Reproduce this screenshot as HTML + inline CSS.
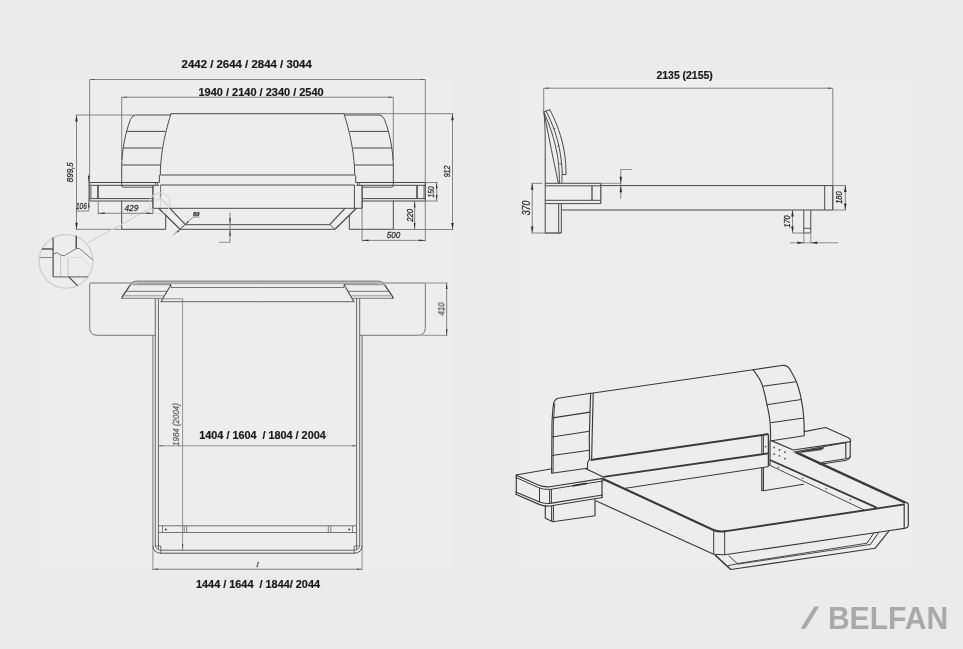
<!DOCTYPE html>
<html><head><meta charset="utf-8"><title>Bed drawing</title>
<style>
html,body{margin:0;padding:0;background:#ebebeb;}
body{width:963px;height:649px;overflow:hidden;font-family:"Liberation Sans",sans-serif;}
svg{display:block;}
</style></head><body>
<svg width="963" height="649" viewBox="0 0 963 649">
<rect x="0" y="0" width="963" height="649" fill="#ebebeb"/>
<rect x="40" y="77" width="414" height="492" fill="#ededed"/>
<rect x="516" y="77" width="396" height="492" fill="#ededed"/>
<defs><filter id="ga" x="0" y="0" width="963" height="649" filterUnits="userSpaceOnUse"><feOffset dx="0" dy="0"/></filter></defs>
<line x1="89.6" y1="79.5" x2="425.3" y2="79.5" stroke="#787878" stroke-width="0.9" />
<line x1="89.6" y1="79.5" x2="89.6" y2="183" stroke="#787878" stroke-width="0.9" />
<line x1="425.3" y1="79.5" x2="425.3" y2="241.5" stroke="#787878" stroke-width="0.9" />
<path d="M89.9,79.5 L94.4,78.7 L94.4,80.3 Z" fill="#555"/>
<path d="M425,79.5 L420.5,80.3 L420.5,78.7 Z" fill="#555"/>
<line x1="121.7" y1="97.2" x2="393.3" y2="97.2" stroke="#787878" stroke-width="0.9" />
<line x1="121.7" y1="97.2" x2="121.7" y2="160" stroke="#787878" stroke-width="0.9" />
<line x1="393.3" y1="97.2" x2="393.3" y2="160" stroke="#787878" stroke-width="0.9" />
<path d="M122,97.2 L126.5,96.4 L126.5,98 Z" fill="#555"/>
<path d="M393,97.2 L388.5,98 L388.5,96.4 Z" fill="#555"/>
<line x1="76.5" y1="115" x2="76.5" y2="229.3" stroke="#787878" stroke-width="0.9" />
<line x1="75.8" y1="115" x2="134" y2="115" stroke="#787878" stroke-width="0.9" />
<line x1="75.8" y1="229.3" x2="121.7" y2="229.3" stroke="#787878" stroke-width="0.9" />
<path d="M76.5,115 L77.8,121.5 L75.2,121.5 Z" fill="#333"/>
<path d="M76.5,229.3 L75.2,222.8 L77.8,222.8 Z" fill="#333"/>
<line x1="452.5" y1="113.7" x2="452.5" y2="229.5" stroke="#787878" stroke-width="0.9" />
<line x1="344" y1="113.7" x2="453.5" y2="113.7" stroke="#787878" stroke-width="0.9" />
<line x1="393.3" y1="229.5" x2="453.5" y2="229.5" stroke="#787878" stroke-width="0.9" />
<path d="M452.5,113.7 L453.8,120.2 L451.2,120.2 Z" fill="#333"/>
<path d="M452.5,229.5 L451.2,223 L453.8,223 Z" fill="#333"/>
<line x1="171" y1="113.7" x2="344" y2="113.7" stroke="#4a4a4a" stroke-width="1.0" />
<path d="M171,113.7 C167.5,125 160.6,148 160.3,174.8 L159.3,175.4 L159.3,182.5" stroke="#4a4a4a" stroke-width="1.0" fill="none" stroke-linejoin="round" stroke-linecap="round"/>
<path d="M170.6,115 L135.8,115 Q132.2,115.3 130.6,119.3 C129,123.5 127.7,127 126.6,131.4 C124.3,140 122,152 121.7,166 L121.7,186" stroke="#4a4a4a" stroke-width="1.0" fill="none" stroke-linejoin="round" stroke-linecap="round"/>
<line x1="126.6" y1="131.4" x2="165.3" y2="131.4" stroke="#4a4a4a" stroke-width="1.0" />
<line x1="123" y1="148" x2="161.7" y2="148" stroke="#4a4a4a" stroke-width="1.0" />
<line x1="121.8" y1="165" x2="160.3" y2="165" stroke="#4a4a4a" stroke-width="1.0" />
<path d="M121.7,186 L123,187.2 L152.5,187.2" stroke="#4a4a4a" stroke-width="0.9" fill="none" stroke-linejoin="round" stroke-linecap="round"/>
<line x1="89.7" y1="182.5" x2="158.8" y2="182.5" stroke="#4a4a4a" stroke-width="1.0" />
<line x1="89.7" y1="185.3" x2="158.8" y2="185.3" stroke="#4a4a4a" stroke-width="1.0" />
<line x1="155.4" y1="182.5" x2="155.4" y2="185.3" stroke="#4a4a4a" stroke-width="0.8" />
<line x1="157.5" y1="182.5" x2="157.5" y2="185.3" stroke="#4a4a4a" stroke-width="0.8" />
<line x1="89.7" y1="198.6" x2="152.9" y2="198.6" stroke="#4a4a4a" stroke-width="1.0" />
<line x1="89.7" y1="201" x2="152.9" y2="201" stroke="#4a4a4a" stroke-width="1.0" />
<line x1="89.7" y1="182.5" x2="89.7" y2="201" stroke="#4a4a4a" stroke-width="1.0" />
<line x1="91" y1="185.3" x2="91" y2="198.6" stroke="#4a4a4a" stroke-width="0.8" />
<line x1="98" y1="185.3" x2="98" y2="198.6" stroke="#4a4a4a" stroke-width="1.6" />
<line x1="152.9" y1="185.3" x2="152.9" y2="208.3" stroke="#4a4a4a" stroke-width="1.4" />
<path d="M121.7,201 L121.7,229.3 L165.7,229.3 L165.7,215.4" stroke="#4a4a4a" stroke-width="1.0" fill="none" stroke-linejoin="round" stroke-linecap="round"/>
<line x1="160.6" y1="185" x2="160.6" y2="198.3" stroke="#6a6a6a" stroke-width="1.0" />
<line x1="160.6" y1="198.3" x2="170.8" y2="208.3" stroke="#b8b8b8" stroke-width="0.9" />
<line x1="160.6" y1="198.3" x2="160.6" y2="208.3" stroke="#d0d0d0" stroke-width="0.8" />
<line x1="158.6" y1="208.3" x2="180" y2="229.3" stroke="#4a4a4a" stroke-width="1.2" />
<line x1="170" y1="208.3" x2="185.3" y2="224.7" stroke="#4a4a4a" stroke-width="1.2" />
<path d="M344,113.7 C347.5,125 354.4,148 354.7,174.8 L355.7,175.4 L355.7,182.5" stroke="#4a4a4a" stroke-width="1.0" fill="none" stroke-linejoin="round" stroke-linecap="round"/>
<path d="M344.4,115 L379.2,115 Q382.8,115.3 384.4,119.3 C386,123.5 387.3,127 388.4,131.4 C390.7,140 393,152 393.3,166 L393.3,186" stroke="#4a4a4a" stroke-width="1.0" fill="none" stroke-linejoin="round" stroke-linecap="round"/>
<line x1="388.4" y1="131.4" x2="349.7" y2="131.4" stroke="#4a4a4a" stroke-width="1.0" />
<line x1="392" y1="148" x2="353.3" y2="148" stroke="#4a4a4a" stroke-width="1.0" />
<line x1="393.2" y1="165" x2="354.7" y2="165" stroke="#4a4a4a" stroke-width="1.0" />
<path d="M393.3,186 L392,187.2 L362.5,187.2" stroke="#4a4a4a" stroke-width="0.9" fill="none" stroke-linejoin="round" stroke-linecap="round"/>
<line x1="425.3" y1="182.5" x2="356.2" y2="182.5" stroke="#4a4a4a" stroke-width="1.0" />
<line x1="425.3" y1="185.3" x2="356.2" y2="185.3" stroke="#4a4a4a" stroke-width="1.0" />
<line x1="359.6" y1="182.5" x2="359.6" y2="185.3" stroke="#4a4a4a" stroke-width="0.8" />
<line x1="357.5" y1="182.5" x2="357.5" y2="185.3" stroke="#4a4a4a" stroke-width="0.8" />
<line x1="425.3" y1="198.6" x2="362.1" y2="198.6" stroke="#4a4a4a" stroke-width="1.0" />
<line x1="425.3" y1="201" x2="362.1" y2="201" stroke="#4a4a4a" stroke-width="1.0" />
<line x1="425.3" y1="182.5" x2="425.3" y2="201" stroke="#4a4a4a" stroke-width="1.0" />
<line x1="424" y1="185.3" x2="424" y2="198.6" stroke="#4a4a4a" stroke-width="0.8" />
<line x1="417" y1="185.3" x2="417" y2="198.6" stroke="#4a4a4a" stroke-width="1.6" />
<line x1="362.1" y1="185.3" x2="362.1" y2="208.3" stroke="#4a4a4a" stroke-width="1.4" />
<path d="M393.3,201 L393.3,229.3 L349.3,229.3 L349.3,215.4" stroke="#4a4a4a" stroke-width="1.0" fill="none" stroke-linejoin="round" stroke-linecap="round"/>
<line x1="354.4" y1="185" x2="354.4" y2="208.3" stroke="#4a4a4a" stroke-width="1.0" />
<line x1="356.4" y1="208.3" x2="335" y2="229.3" stroke="#4a4a4a" stroke-width="1.2" />
<line x1="345" y1="208.3" x2="329.7" y2="224.7" stroke="#4a4a4a" stroke-width="1.2" />
<line x1="160.3" y1="175" x2="354.7" y2="175" stroke="#4a4a4a" stroke-width="1.0" />
<line x1="160.4" y1="185" x2="354.6" y2="185" stroke="#4a4a4a" stroke-width="1.0" />
<line x1="152.9" y1="208.3" x2="362.1" y2="208.3" stroke="#4a4a4a" stroke-width="1.0" />
<line x1="185.3" y1="224.7" x2="329.7" y2="224.7" stroke="#4a4a4a" stroke-width="1.0" />
<line x1="180" y1="229.3" x2="335" y2="229.3" stroke="#4a4a4a" stroke-width="1.0" />
<line x1="180" y1="229.3" x2="185.3" y2="224.7" stroke="#4a4a4a" stroke-width="0.8" />
<line x1="335" y1="229.3" x2="329.7" y2="224.7" stroke="#4a4a4a" stroke-width="0.8" />
<circle cx="159.8" cy="203.2" r="10.5" stroke="#d6d6d6" stroke-width="1.0" fill="none"/>
<circle cx="157" cy="197" r="3.3" stroke="#d2d2d2" stroke-width="0.9" fill="none"/>
<line x1="150.5" y1="208.5" x2="88" y2="242.8" stroke="#d4d4d4" stroke-width="1.3" />
<circle cx="66" cy="261.3" r="26.9" stroke="#d2d2d2" stroke-width="1.5" fill="none"/>
<line x1="53.1" y1="237.5" x2="53.1" y2="276.9" stroke="#5a5a5a" stroke-width="1.3" />
<line x1="41.9" y1="249" x2="53.1" y2="249" stroke="#555" stroke-width="1.5" />
<line x1="39.4" y1="257.5" x2="53.1" y2="257.5" stroke="#8a8a8a" stroke-width="1.1" />
<line x1="76.25" y1="235.8" x2="76.25" y2="248.5" stroke="#555" stroke-width="1.5" />
<path d="M53.1,254.4 L56.9,252.5 L60.6,255 L64.4,255.7 L76.25,248.5 L79.4,248.5 L92.3,259.4" stroke="#7a7a7a" stroke-width="1.0" fill="none" stroke-linejoin="round" stroke-linecap="round"/>
<line x1="60.6" y1="255" x2="60.6" y2="276.9" stroke="#bbb" stroke-width="0.8" />
<line x1="68.1" y1="257.5" x2="68.1" y2="276.9" stroke="#bbb" stroke-width="0.8" />
<path d="M68.1,257.5 L82.5,257.5 L91.6,267.5" stroke="#d4d4d4" stroke-width="0.8" fill="none" stroke-linejoin="round" stroke-linecap="round"/>
<line x1="53.1" y1="276.9" x2="88" y2="276.9" stroke="#7a7a7a" stroke-width="1.1" />
<line x1="68.75" y1="276.9" x2="77.5" y2="285.6" stroke="#444" stroke-width="1.2" />
<line x1="88.8" y1="174" x2="88.8" y2="211" stroke="#787878" stroke-width="0.9" />
<path d="M88.8,182.5 L88,176 L89.6,176 Z" fill="#333"/>
<path d="M88.8,201 L89.6,207.5 L88,207.5 Z" fill="#333"/>
<line x1="75.8" y1="211" x2="88.8" y2="211" stroke="#787878" stroke-width="0.9" />
<line x1="98.2" y1="201" x2="98.2" y2="214.3" stroke="#787878" stroke-width="0.9" />
<line x1="152.9" y1="208.3" x2="152.9" y2="214.3" stroke="#787878" stroke-width="0.9" />
<line x1="98.2" y1="213.3" x2="152.9" y2="213.3" stroke="#787878" stroke-width="0.9" />
<path d="M98.2,213.3 L104.7,212.5 L104.7,214.1 Z" fill="#333"/>
<path d="M152.9,213.3 L146.4,214.1 L146.4,212.5 Z" fill="#333"/>
<line x1="173.3" y1="235" x2="193.3" y2="217" stroke="#787878" stroke-width="0.8" />
<line x1="193.3" y1="217" x2="199.5" y2="217" stroke="#787878" stroke-width="0.8" />
<path d="M185.3,224.7 L187.99,221.02 L188.98,222.01 Z" fill="#333"/>
<path d="M180.5,229 L177.81,232.68 L176.82,231.69 Z" fill="#333"/>
<line x1="230" y1="212.5" x2="230" y2="242.3" stroke="#787878" stroke-width="0.9" />
<line x1="219" y1="242.3" x2="230" y2="242.3" stroke="#787878" stroke-width="0.8" />
<path d="M230,224.7 L229.2,218.2 L230.8,218.2 Z" fill="#333"/>
<path d="M230,229.3 L230.8,235.8 L229.2,235.8 Z" fill="#333"/>
<line x1="425.3" y1="182.5" x2="437.6" y2="182.5" stroke="#787878" stroke-width="0.9" />
<line x1="425.3" y1="201" x2="437.6" y2="201" stroke="#787878" stroke-width="0.9" />
<line x1="436.7" y1="182.5" x2="436.7" y2="201" stroke="#787878" stroke-width="0.9" />
<path d="M436.7,182.5 L437.5,188.5 L435.9,188.5 Z" fill="#333"/>
<path d="M436.7,201 L435.9,195 L437.5,195 Z" fill="#333"/>
<line x1="414.7" y1="201" x2="414.7" y2="229.5" stroke="#787878" stroke-width="0.9" />
<path d="M414.7,201 L415.5,207.5 L413.9,207.5 Z" fill="#333"/>
<path d="M414.7,229.5 L413.9,223 L415.5,223 Z" fill="#333"/>
<line x1="362.1" y1="208.3" x2="362.1" y2="241.5" stroke="#787878" stroke-width="0.9" />
<line x1="362.1" y1="240.4" x2="425.3" y2="240.4" stroke="#787878" stroke-width="0.9" />
<path d="M362.1,240.4 L368.6,239.6 L368.6,241.2 Z" fill="#333"/>
<path d="M425.3,240.4 L418.8,241.2 L418.8,239.6 Z" fill="#333"/>
<line x1="543.7" y1="88.2" x2="832.8" y2="88.2" stroke="#787878" stroke-width="0.9" />
<line x1="543.7" y1="88.2" x2="543.7" y2="112" stroke="#787878" stroke-width="0.9" />
<line x1="832.8" y1="88.2" x2="832.8" y2="210" stroke="#787878" stroke-width="0.9" />
<path d="M544,88.2 L548.5,87.4 L548.5,89 Z" fill="#555"/>
<path d="M832.5,88.2 L828,89 L828,87.4 Z" fill="#555"/>
<path d="M543.75,111.9 L549.75,109.75" stroke="#4a4a4a" stroke-width="1.0" fill="none" stroke-linejoin="round" stroke-linecap="round"/>
<path d="M549.75,109.75 C556,121 562,137 564.5,153 C565.6,160 566,167 566,174.6" stroke="#4a4a4a" stroke-width="1.0" fill="none" stroke-linejoin="round" stroke-linecap="round"/>
<path d="M546,111 C552,122 557.5,137 560,152 C561.4,160 562.2,168 562.3,174.6" stroke="#4a4a4a" stroke-width="1.0" fill="none" stroke-linejoin="round" stroke-linecap="round"/>
<line x1="562.3" y1="174.6" x2="566" y2="174.6" stroke="#4a4a4a" stroke-width="1.0" />
<path d="M543.75,111.9 C549.5,124 554,138 556.8,152 C558.4,160 559.3,170 559.4,183.3" stroke="#4a4a4a" stroke-width="1.0" fill="none" stroke-linejoin="round" stroke-linecap="round"/>
<path d="M544.3,113.5 C546.5,125 550,143 553.5,160 C555,167 557,176 558.3,183.3" stroke="#4a4a4a" stroke-width="1.0" fill="none" stroke-linejoin="round" stroke-linecap="round"/>
<path d="M543.9,112.5 C544.8,120 545.2,130 545.2,140 L545.2,233" stroke="#4a4a4a" stroke-width="1.0" fill="none" stroke-linejoin="round" stroke-linecap="round"/>
<line x1="561.9" y1="174.6" x2="561.9" y2="183.3" stroke="#4a4a4a" stroke-width="0.9" />
<line x1="553.6" y1="128.8" x2="555.3" y2="128.5" stroke="#4a4a4a" stroke-width="0.8" />
<line x1="557.3" y1="146.3" x2="559.3" y2="146" stroke="#4a4a4a" stroke-width="0.8" />
<line x1="559.3" y1="163.8" x2="561.7" y2="163.6" stroke="#4a4a4a" stroke-width="0.8" />
<line x1="545.2" y1="183.3" x2="600.8" y2="183.3" stroke="#4a4a4a" stroke-width="1.0" />
<line x1="545.2" y1="185.8" x2="600.8" y2="185.8" stroke="#4a4a4a" stroke-width="1.0" />
<line x1="600.8" y1="183.3" x2="600.8" y2="203.6" stroke="#4a4a4a" stroke-width="1.2" />
<line x1="592" y1="185.8" x2="592" y2="200.3" stroke="#4a4a4a" stroke-width="1.3" />
<line x1="545.2" y1="200.3" x2="600.8" y2="200.3" stroke="#4a4a4a" stroke-width="1.0" />
<line x1="545.2" y1="203.6" x2="600.8" y2="203.6" stroke="#4a4a4a" stroke-width="1.0" />
<line x1="558.7" y1="203.6" x2="558.7" y2="233" stroke="#4a4a4a" stroke-width="1.0" />
<line x1="561.3" y1="203.6" x2="561.3" y2="233" stroke="#4a4a4a" stroke-width="1.0" />
<line x1="545.2" y1="233" x2="561.3" y2="233" stroke="#4a4a4a" stroke-width="1.3" />
<line x1="600.8" y1="185.6" x2="832.8" y2="185.6" stroke="#4a4a4a" stroke-width="1.0" />
<line x1="561.3" y1="210" x2="832.8" y2="210" stroke="#4a4a4a" stroke-width="1.0" />
<line x1="824.7" y1="185.6" x2="824.7" y2="210" stroke="#4a4a4a" stroke-width="1.0" />
<line x1="832.8" y1="185.6" x2="832.8" y2="210" stroke="#4a4a4a" stroke-width="1.0" />
<line x1="803.8" y1="210" x2="803.8" y2="233" stroke="#4a4a4a" stroke-width="1.0" />
<line x1="810.8" y1="210" x2="810.8" y2="233" stroke="#4a4a4a" stroke-width="1.0" />
<line x1="803.8" y1="228.3" x2="810.8" y2="228.3" stroke="#4a4a4a" stroke-width="0.9" />
<line x1="803.8" y1="233" x2="810.8" y2="233" stroke="#4a4a4a" stroke-width="0.9" />
<line x1="803.8" y1="233" x2="803.8" y2="243.6" stroke="#787878" stroke-width="0.8" />
<line x1="810.8" y1="233" x2="810.8" y2="243.6" stroke="#787878" stroke-width="0.8" />
<line x1="532.2" y1="183.3" x2="532.2" y2="233" stroke="#787878" stroke-width="0.9" />
<line x1="531.5" y1="183.3" x2="542.5" y2="183.3" stroke="#787878" stroke-width="0.9" />
<line x1="531.5" y1="233" x2="545.2" y2="233" stroke="#787878" stroke-width="0.9" />
<path d="M532.2,183.3 L533.5,189.8 L530.9,189.8 Z" fill="#333"/>
<path d="M532.2,233 L530.9,226.5 L533.5,226.5 Z" fill="#333"/>
<line x1="620.8" y1="169.5" x2="620.8" y2="198.7" stroke="#787878" stroke-width="0.9" />
<line x1="620.8" y1="169.5" x2="631.7" y2="169.5" stroke="#787878" stroke-width="0.8" />
<line x1="600.8" y1="183.3" x2="621.3" y2="183.3" stroke="#787878" stroke-width="0.8" />
<path d="M620.8,183.3 L619.5,176.8 L622.1,176.8 Z" fill="#333"/>
<path d="M620.8,185.8 L622.1,192.3 L619.5,192.3 Z" fill="#333"/>
<line x1="832.8" y1="185.6" x2="846" y2="185.6" stroke="#787878" stroke-width="0.9" />
<line x1="832.8" y1="210" x2="846" y2="210" stroke="#787878" stroke-width="0.9" />
<line x1="845.3" y1="185.6" x2="845.3" y2="210" stroke="#787878" stroke-width="0.9" />
<path d="M845.3,185.6 L846.6,192.1 L844,192.1 Z" fill="#333"/>
<path d="M845.3,210 L844,203.5 L846.6,203.5 Z" fill="#333"/>
<line x1="792.5" y1="210" x2="792.5" y2="233" stroke="#787878" stroke-width="0.9" />
<line x1="792.5" y1="233" x2="803.8" y2="233" stroke="#787878" stroke-width="0.9" />
<path d="M792.5,210 L793.8,216.5 L791.2,216.5 Z" fill="#333"/>
<path d="M792.5,233 L791.2,226.5 L793.8,226.5 Z" fill="#333"/>
<line x1="790" y1="242.8" x2="838.3" y2="242.8" stroke="#787878" stroke-width="0.8" />
<path d="M803.8,242.8 L797.3,244.1 L797.3,241.5 Z" fill="#333"/>
<path d="M810.8,242.8 L817.3,241.5 L817.3,244.1 Z" fill="#333"/>
<path d="M131.7,283 L90.7,283 Q89.7,283 89.7,284 L89.7,327.8 Q89.7,335.3 97.2,335.3 L155.3,335.3" stroke="#6a6a6a" stroke-width="0.9" fill="none" stroke-linejoin="round" stroke-linecap="round"/>
<path d="M122.3,298.3 L161.7,298.3" stroke="#777" stroke-width="1.0" fill="none" stroke-linejoin="round" stroke-linecap="round"/>
<path d="M130.8,284.2 L121.9,297.3 L122.3,298.3" stroke="#4a4a4a" stroke-width="1.3" fill="none" stroke-linejoin="round" stroke-linecap="round"/>
<line x1="131.7" y1="284.7" x2="170.8" y2="284.7" stroke="#7a7a7a" stroke-width="0.9" />
<line x1="125.8" y1="291.3" x2="166.7" y2="291.3" stroke="#777" stroke-width="1.0" />
<line x1="122.8" y1="295.8" x2="163.5" y2="295.8" stroke="#8a8a8a" stroke-width="0.9" />
<path d="M170.8,285 L161,301.7" stroke="#4a4a4a" stroke-width="1.1" fill="none" stroke-linejoin="round" stroke-linecap="round"/>
<path d="M169.6,283.6 L171.2,286.5" stroke="#4a4a4a" stroke-width="1.0" fill="none" stroke-linejoin="round" stroke-linecap="round"/>
<path d="M257.5,282.2 L136,282.2 Q132.8,282.4 131.2,284.2" stroke="#b4b4b4" stroke-width="2.6" fill="none" stroke-linejoin="round" stroke-linecap="round"/>
<path d="M257.5,281 L136,281 Q132,281.2 130.8,284.2" stroke="#808080" stroke-width="0.9" fill="none" stroke-linejoin="round" stroke-linecap="round"/>
<line x1="137" y1="283.6" x2="257.5" y2="283.6" stroke="#999" stroke-width="0.8" />
<line x1="170.8" y1="287.5" x2="257.5" y2="287.5" stroke="#777" stroke-width="1.0" />
<line x1="161" y1="301.7" x2="257.5" y2="301.7" stroke="#666" stroke-width="1.0" />
<line x1="155.3" y1="298.3" x2="155.3" y2="546" stroke="#666" stroke-width="1.0" />
<line x1="158.4" y1="298.3" x2="158.4" y2="550" stroke="#666" stroke-width="1.0" />
<line x1="152.9" y1="335.3" x2="152.9" y2="546" stroke="#666" stroke-width="0.9" />
<path d="M152.9,546 Q153.2,553 160.5,553.2" stroke="#555" stroke-width="1.0" fill="none" stroke-linejoin="round" stroke-linecap="round"/>
<path d="M155.3,546 L160.8,546 L160.8,553.2" stroke="#666" stroke-width="0.9" fill="none" stroke-linejoin="round" stroke-linecap="round"/>
<path d="M155.3,546 Q155.6,550 160.8,550.2" stroke="#666" stroke-width="0.8" fill="none" stroke-linejoin="round" stroke-linecap="round"/>
<line x1="162.5" y1="525.8" x2="162.5" y2="532.5" stroke="#666" stroke-width="0.8" />
<line x1="184.2" y1="525.8" x2="184.2" y2="532.5" stroke="#666" stroke-width="0.8" />
<line x1="186.7" y1="525.8" x2="186.7" y2="532.5" stroke="#666" stroke-width="0.8" />
<circle cx="165.8" cy="529.4" r="1" fill="#444"/>
<path d="M383.3,283 L424.3,283 Q425.3,283 425.3,284 L425.3,327.8 Q425.3,335.3 417.8,335.3 L359.7,335.3" stroke="#6a6a6a" stroke-width="0.9" fill="none" stroke-linejoin="round" stroke-linecap="round"/>
<path d="M392.7,298.3 L353.3,298.3" stroke="#777" stroke-width="1.0" fill="none" stroke-linejoin="round" stroke-linecap="round"/>
<path d="M384.2,284.2 L393.1,297.3 L392.7,298.3" stroke="#4a4a4a" stroke-width="1.3" fill="none" stroke-linejoin="round" stroke-linecap="round"/>
<line x1="383.3" y1="284.7" x2="344.2" y2="284.7" stroke="#7a7a7a" stroke-width="0.9" />
<line x1="389.2" y1="291.3" x2="348.3" y2="291.3" stroke="#777" stroke-width="1.0" />
<line x1="392.2" y1="295.8" x2="351.5" y2="295.8" stroke="#8a8a8a" stroke-width="0.9" />
<path d="M344.2,285 L354,301.7" stroke="#4a4a4a" stroke-width="1.1" fill="none" stroke-linejoin="round" stroke-linecap="round"/>
<path d="M345.4,283.6 L343.8,286.5" stroke="#4a4a4a" stroke-width="1.0" fill="none" stroke-linejoin="round" stroke-linecap="round"/>
<path d="M257.5,282.2 L379,282.2 Q382.2,282.4 383.8,284.2" stroke="#b4b4b4" stroke-width="2.6" fill="none" stroke-linejoin="round" stroke-linecap="round"/>
<path d="M257.5,281 L379,281 Q383,281.2 384.2,284.2" stroke="#808080" stroke-width="0.9" fill="none" stroke-linejoin="round" stroke-linecap="round"/>
<line x1="378" y1="283.6" x2="257.5" y2="283.6" stroke="#999" stroke-width="0.8" />
<line x1="344.2" y1="287.5" x2="257.5" y2="287.5" stroke="#777" stroke-width="1.0" />
<line x1="354" y1="301.7" x2="257.5" y2="301.7" stroke="#666" stroke-width="1.0" />
<line x1="359.7" y1="298.3" x2="359.7" y2="546" stroke="#666" stroke-width="1.0" />
<line x1="356.6" y1="298.3" x2="356.6" y2="550" stroke="#666" stroke-width="1.0" />
<line x1="362.1" y1="335.3" x2="362.1" y2="546" stroke="#666" stroke-width="0.9" />
<path d="M362.1,546 Q361.8,553 354.5,553.2" stroke="#555" stroke-width="1.0" fill="none" stroke-linejoin="round" stroke-linecap="round"/>
<path d="M359.7,546 L354.2,546 L354.2,553.2" stroke="#666" stroke-width="0.9" fill="none" stroke-linejoin="round" stroke-linecap="round"/>
<path d="M359.7,546 Q359.4,550 354.2,550.2" stroke="#666" stroke-width="0.8" fill="none" stroke-linejoin="round" stroke-linecap="round"/>
<line x1="352.5" y1="525.8" x2="352.5" y2="532.5" stroke="#666" stroke-width="0.8" />
<line x1="330.8" y1="525.8" x2="330.8" y2="532.5" stroke="#666" stroke-width="0.8" />
<line x1="328.3" y1="525.8" x2="328.3" y2="532.5" stroke="#666" stroke-width="0.8" />
<circle cx="349.2" cy="529.4" r="1" fill="#444"/>
<line x1="158.4" y1="525.8" x2="356.6" y2="525.8" stroke="#666" stroke-width="0.9" />
<line x1="158.4" y1="532.5" x2="356.6" y2="532.5" stroke="#666" stroke-width="0.9" />
<line x1="160.5" y1="550.2" x2="354.5" y2="550.2" stroke="#666" stroke-width="1.0" />
<line x1="160.5" y1="553.2" x2="354.5" y2="553.2" stroke="#555" stroke-width="1.0" />
<path d="M161.7,298.8 L182.6,298.8 L182.6,549.8" stroke="#787878" stroke-width="0.8" fill="none" stroke-linejoin="round" stroke-linecap="round"/>
<path d="M182.6,549.8 L181.85,544.3 L183.35,544.3 Z" fill="#555"/>
<line x1="158.4" y1="445.8" x2="356.6" y2="445.8" stroke="#787878" stroke-width="0.8" />
<path d="M158.6,445.8 L162.6,445.1 L162.6,446.5 Z" fill="#666"/>
<path d="M356.4,445.8 L352.4,446.5 L352.4,445.1 Z" fill="#666"/>
<line x1="152.9" y1="546" x2="152.9" y2="570" stroke="#787878" stroke-width="0.8" />
<line x1="362.1" y1="546" x2="362.1" y2="570" stroke="#787878" stroke-width="0.8" />
<line x1="152.9" y1="569.2" x2="362.1" y2="569.2" stroke="#787878" stroke-width="0.9" />
<path d="M153.1,569.2 L158.1,568.45 L158.1,569.95 Z" fill="#555"/>
<path d="M361.9,569.2 L356.9,569.95 L356.9,568.45 Z" fill="#555"/>
<line x1="425.3" y1="283" x2="447.5" y2="283" stroke="#787878" stroke-width="0.8" />
<line x1="421.3" y1="335.3" x2="447.5" y2="335.3" stroke="#787878" stroke-width="0.8" />
<line x1="446.7" y1="283" x2="446.7" y2="335.3" stroke="#787878" stroke-width="0.9" />
<path d="M446.7,283 L447.5,289 L445.9,289 Z" fill="#333"/>
<path d="M446.7,335.3 L445.9,329.3 L447.5,329.3 Z" fill="#333"/>
<line x1="593.3" y1="393" x2="753" y2="369.7" stroke="#3a3a3a" stroke-width="1.15" />
<path d="M593.2,393 L592.1,439 L591.6,460" stroke="#3a3a3a" stroke-width="1.15" fill="none" stroke-linejoin="round" stroke-linecap="round"/>
<line x1="590.6" y1="460" x2="768.4" y2="434.1" stroke="#3a3a3a" stroke-width="2.0" />
<line x1="590.6" y1="393.3" x2="593.2" y2="393" stroke="#3a3a3a" stroke-width="1.0" />
<path d="M753,369.7 C758,376 761,381 762.5,385.8 C765,394 766,399 766.7,403.3 C768.5,411 769.6,417 770,422 C770.6,428 770.6,432 770.5,440.5" stroke="#3a3a3a" stroke-width="1.15" fill="none" stroke-linejoin="round" stroke-linecap="round"/>
<path d="M590.6,393.3 L558.2,398.3 Q554.2,399.3 553.4,404.6 C552.6,412 552.1,418 552,424 L551.6,473.2 L585.4,468.5 L587.4,468.4" stroke="#3a3a3a" stroke-width="1.15" fill="none" stroke-linejoin="round" stroke-linecap="round"/>
<path d="M554.8,403.6 C554,412 553.5,420 553.4,426 L553.1,472.8" stroke="#3a3a3a" stroke-width="0.9" fill="none" stroke-linejoin="round" stroke-linecap="round"/>
<path d="M590.6,393.3 L589.3,437 L589.5,459.4 Q588,461 587.6,463 L587.4,468.4" stroke="#3a3a3a" stroke-width="1.15" fill="none" stroke-linejoin="round" stroke-linecap="round"/>
<line x1="552.6" y1="417.9" x2="590.2" y2="412.1" stroke="#3a3a3a" stroke-width="1.15" />
<line x1="552" y1="437" x2="589.4" y2="431.3" stroke="#3a3a3a" stroke-width="1.15" />
<line x1="552" y1="455.5" x2="589.4" y2="450.2" stroke="#3a3a3a" stroke-width="1.15" />
<path d="M753,369.7 L783.3,365.3 C787,365.3 789.5,368 790.8,370.8 C793.5,376 795.5,379 796.7,382.5 C799,389 800.4,394 801.2,399.2 C802.6,406 803.3,411 803.7,416.7 C804.2,423 804.3,428 804.2,435.8 L771.5,440.8" stroke="#3a3a3a" stroke-width="1.15" fill="none" stroke-linejoin="round" stroke-linecap="round"/>
<line x1="762.5" y1="386.3" x2="795.8" y2="381.7" stroke="#3a3a3a" stroke-width="1.15" />
<line x1="766.7" y1="404.7" x2="801.2" y2="399.5" stroke="#3a3a3a" stroke-width="1.15" />
<line x1="770.6" y1="422.8" x2="803.7" y2="418" stroke="#3a3a3a" stroke-width="1.15" />
<path d="M585.4,468.5 L603.4,477" stroke="#3a3a3a" stroke-width="1.15" fill="none" stroke-linejoin="round" stroke-linecap="round"/>
<line x1="603.5" y1="476.9" x2="768.3" y2="453.4" stroke="#3a3a3a" stroke-width="1.9" />
<line x1="625" y1="488.3" x2="768.3" y2="466.7" stroke="#3a3a3a" stroke-width="1.0" />
<path d="M552,468.8 L515.8,475 L538.3,485 Q543,487.2 550,486.8 L603.3,478.4" stroke="#3a3a3a" stroke-width="1.15" fill="none" stroke-linejoin="round" stroke-linecap="round"/>
<path d="M515.8,477.4 L538.3,487.5 Q543,489.8 550,489.4 L603.3,480.9" stroke="#3a3a3a" stroke-width="1.0" fill="none" stroke-linejoin="round" stroke-linecap="round"/>
<line x1="516.3" y1="475.3" x2="516.3" y2="494" stroke="#3a3a3a" stroke-width="1.15" />
<path d="M515.8,492 L539,501.8 Q544,504 550,503.4 L602.5,495" stroke="#3a3a3a" stroke-width="1.15" fill="none" stroke-linejoin="round" stroke-linecap="round"/>
<path d="M515.8,494.2 L539,504.4 Q544,506.6 550,506 L602.5,497.5" stroke="#3a3a3a" stroke-width="1.15" fill="none" stroke-linejoin="round" stroke-linecap="round"/>
<line x1="539.5" y1="488" x2="539.5" y2="502" stroke="#3a3a3a" stroke-width="1.0" />
<line x1="549.6" y1="489.4" x2="549.6" y2="503.4" stroke="#3a3a3a" stroke-width="1.0" />
<line x1="551.4" y1="489.2" x2="551.4" y2="503.2" stroke="#3a3a3a" stroke-width="1.0" />
<line x1="602" y1="479" x2="602" y2="497.5" stroke="#3a3a3a" stroke-width="1.2" />
<line x1="572.5" y1="485.9" x2="586.7" y2="483.4" stroke="#333" stroke-width="1.8" />
<path d="M545.3,505.2 L545.3,518.3 L552.8,521.7 L595,515.8 L595,499" stroke="#3a3a3a" stroke-width="1.15" fill="none" stroke-linejoin="round" stroke-linecap="round"/>
<line x1="551.6" y1="506" x2="551.6" y2="521.2" stroke="#3a3a3a" stroke-width="1.0" />
<line x1="553.4" y1="505.8" x2="553.4" y2="521.6" stroke="#3a3a3a" stroke-width="1.0" />
<path d="M603.7,479.2 L712.3,529.4 Q718,532 724.5,531.4" stroke="#3a3a3a" stroke-width="2.2" fill="none" stroke-linejoin="round" stroke-linecap="round"/>
<line x1="595.8" y1="500.8" x2="713.7" y2="554.2" stroke="#3a3a3a" stroke-width="1.15" />
<line x1="713.7" y1="530.5" x2="713.7" y2="554.3" stroke="#3a3a3a" stroke-width="1.0" />
<line x1="724.7" y1="531.6" x2="724.7" y2="554.8" stroke="#3a3a3a" stroke-width="1.0" />
<line x1="713.7" y1="554.3" x2="724.7" y2="554.8" stroke="#3a3a3a" stroke-width="1.0" />
<line x1="724.5" y1="531.4" x2="904.2" y2="504.4" stroke="#3a3a3a" stroke-width="1.9" />
<path d="M724.7,554.8 L888.3,530.8 L904.2,528.4" stroke="#3a3a3a" stroke-width="1.15" fill="none" stroke-linejoin="round" stroke-linecap="round"/>
<path d="M904.2,504.3 L904.2,528.4" stroke="#3a3a3a" stroke-width="1.15" fill="none" stroke-linejoin="round" stroke-linecap="round"/>
<path d="M905.3,502.4 Q908,502.6 908.3,504.6 L908.3,525.5 Q908.2,528 904.2,528.4" stroke="#3a3a3a" stroke-width="1.15" fill="none" stroke-linejoin="round" stroke-linecap="round"/>
<line x1="795.6" y1="452.1" x2="905.3" y2="502.6" stroke="#3a3a3a" stroke-width="2.3" />
<line x1="770" y1="460" x2="876.7" y2="507.6" stroke="#3a3a3a" stroke-width="1.9" />
<line x1="769.2" y1="465" x2="864.2" y2="510" stroke="#3a3a3a" stroke-width="0.9" />
<circle cx="778.3" cy="467.5" r="0.8" fill="#555"/>
<circle cx="802.5" cy="478.3" r="0.8" fill="#555"/>
<circle cx="826.3" cy="488.7" r="0.8" fill="#555"/>
<circle cx="850.2" cy="499.5" r="0.8" fill="#555"/>
<line x1="768.4" y1="434.5" x2="768.4" y2="466.7" stroke="#3a3a3a" stroke-width="1.3" />
<line x1="770" y1="440.5" x2="770" y2="465" stroke="#3a3a3a" stroke-width="1.15" />
<circle cx="774.2" cy="447.5" r="0.9" fill="#555"/>
<circle cx="779.5" cy="450" r="0.9" fill="#555"/>
<circle cx="785" cy="452.2" r="0.9" fill="#555"/>
<circle cx="774.2" cy="454.2" r="0.9" fill="#555"/>
<circle cx="779.5" cy="455.8" r="0.9" fill="#555"/>
<circle cx="785" cy="458.7" r="0.9" fill="#555"/>
<line x1="761.8" y1="435" x2="761.8" y2="453.8" stroke="#3a3a3a" stroke-width="1.0" />
<line x1="763.4" y1="435" x2="763.4" y2="453.6" stroke="#3a3a3a" stroke-width="1.0" />
<circle cx="765.6" cy="446.6" r="0.85" fill="#555"/>
<line x1="761.8" y1="467.6" x2="761.8" y2="490.2" stroke="#3a3a3a" stroke-width="1.15" />
<line x1="763.4" y1="467.4" x2="763.4" y2="490.6" stroke="#3a3a3a" stroke-width="1.15" />
<path d="M761.8,490.2 L763.4,490.8 L803.5,484.2" stroke="#3a3a3a" stroke-width="1.15" fill="none" stroke-linejoin="round" stroke-linecap="round"/>
<path d="M804.2,431.6 L825.6,427.5 L848,437.6 Q851,439.2 850.6,441.6 L793.3,450 L771.8,440.9" stroke="#3a3a3a" stroke-width="1.15" fill="none" stroke-linejoin="round" stroke-linecap="round"/>
<line x1="793.3" y1="452.2" x2="846" y2="442.6" stroke="#3a3a3a" stroke-width="1.0" />
<line x1="845.8" y1="442.6" x2="845.8" y2="459" stroke="#3a3a3a" stroke-width="1.15" />
<line x1="850.2" y1="441.6" x2="850.2" y2="457" stroke="#3a3a3a" stroke-width="1.15" />
<path d="M821.7,462.5 L845.8,458.8 Q850,458 850.2,456.5" stroke="#3a3a3a" stroke-width="1.15" fill="none" stroke-linejoin="round" stroke-linecap="round"/>
<path d="M819.5,464.3 L846,460.4 Q850.4,459.4 850.2,457" stroke="#3a3a3a" stroke-width="1.0" fill="none" stroke-linejoin="round" stroke-linecap="round"/>
<path d="M798,451.8 L823.6,447.1 L823.3,448.8 L820.8,449.9 L801,452.6 Z" stroke="#444" stroke-width="0.5" fill="#444" stroke-linejoin="round" stroke-linecap="round"/>
<line x1="715" y1="555" x2="730.8" y2="569.5" stroke="#333" stroke-width="1.6" />
<line x1="728.7" y1="555.6" x2="737.5" y2="563.7" stroke="#3a3a3a" stroke-width="1.0" />
<line x1="728.1" y1="565.6" x2="737.5" y2="563.8" stroke="#3a3a3a" stroke-width="0.9" />
<line x1="737.5" y1="563.5" x2="867" y2="543.2" stroke="#3a3a3a" stroke-width="0.9" />
<line x1="737.5" y1="564.2" x2="870.8" y2="544.4" stroke="#3a3a3a" stroke-width="0.9" />
<line x1="730.8" y1="569.5" x2="875" y2="548.3" stroke="#3a3a3a" stroke-width="1.15" />
<line x1="873.8" y1="532.9" x2="867" y2="543.3" stroke="#3a3a3a" stroke-width="1.0" />
<line x1="878.8" y1="532.3" x2="870.5" y2="544.3" stroke="#3a3a3a" stroke-width="1.0" />
<line x1="889.2" y1="530.7" x2="875" y2="548.3" stroke="#3a3a3a" stroke-width="1.15" />
<path d="M800.6,628.7 L814.4,606.4 L819.2,606.4 L805.4,628.7 Z" fill="#a9a9a9"/>
<g filter="url(#ga)">
<text x="181.6" y="68.4" font-family="Liberation Sans, sans-serif" font-weight="bold" font-size="11.2" fill="#1a1a1a" stroke="#1a1a1a" stroke-width="0.2" textLength="130.2" lengthAdjust="spacingAndGlyphs" xml:space="preserve">2442 / 2644 / 2844 / 3044</text>
<text x="198.5" y="95.8" font-family="Liberation Sans, sans-serif" font-weight="bold" font-size="11.2" fill="#1a1a1a" stroke="#1a1a1a" stroke-width="0.2" textLength="125.2" lengthAdjust="spacingAndGlyphs" xml:space="preserve">1940 / 2140 / 2340 / 2540</text>
<text x="72.6" y="182.2" font-family="Liberation Sans, sans-serif" font-style="italic" font-weight="normal" font-size="9.2" fill="#333" stroke="#333" stroke-width="0.3" textLength="19.9" lengthAdjust="spacingAndGlyphs" transform="rotate(-90 72.6 182.2)">899,5</text>
<text x="450.3" y="177.3" font-family="Liberation Sans, sans-serif" font-style="italic" font-weight="normal" font-size="9.9" fill="#333" stroke="#333" stroke-width="0.3" textLength="11.7" lengthAdjust="spacingAndGlyphs" transform="rotate(-90 450.3 177.3)">912</text>
<text x="76" y="208.9" font-family="Liberation Sans, sans-serif" font-style="italic" font-weight="normal" font-size="9.2" fill="#333" stroke="#333" stroke-width="0.3" textLength="10.8" lengthAdjust="spacingAndGlyphs">106</text>
<text x="124.4" y="210.8" font-family="Liberation Sans, sans-serif" font-style="italic" font-weight="normal" font-size="9.4" fill="#333" stroke="#333" stroke-width="0.3" textLength="14" lengthAdjust="spacingAndGlyphs">429</text>
<text x="193" y="215.8" font-family="Liberation Sans, sans-serif" font-style="italic" font-weight="bold" font-size="5.5" fill="#333" stroke="#333" stroke-width="0.3" textLength="6.3" lengthAdjust="spacingAndGlyphs">60</text>
<text x="433.7" y="197.4" font-family="Liberation Sans, sans-serif" font-style="italic" font-weight="normal" font-size="9.3" fill="#333" stroke="#333" stroke-width="0.3" textLength="11" lengthAdjust="spacingAndGlyphs" transform="rotate(-90 433.7 197.4)">150</text>
<text x="412.8" y="221.7" font-family="Liberation Sans, sans-serif" font-style="italic" font-weight="normal" font-size="9.7" fill="#333" stroke="#333" stroke-width="0.3" textLength="12.8" lengthAdjust="spacingAndGlyphs" transform="rotate(-90 412.8 221.7)">220</text>
<text x="386.7" y="237.8" font-family="Liberation Sans, sans-serif" font-style="italic" font-weight="normal" font-size="9.5" fill="#333" stroke="#333" stroke-width="0.3" textLength="13.5" lengthAdjust="spacingAndGlyphs">500</text>
<text x="656.5" y="78.9" font-family="Liberation Sans, sans-serif" font-weight="bold" font-size="11.2" fill="#1a1a1a" stroke="#1a1a1a" stroke-width="0.2" textLength="56.2" lengthAdjust="spacingAndGlyphs" xml:space="preserve">2135 (2155)</text>
<text x="529.8" y="215.3" font-family="Liberation Sans, sans-serif" font-style="italic" font-weight="normal" font-size="10.8" fill="#333" stroke="#333" stroke-width="0.3" textLength="14.7" lengthAdjust="spacingAndGlyphs" transform="rotate(-90 529.8 215.3)">370</text>
<text x="842.3" y="203.8" font-family="Liberation Sans, sans-serif" font-style="italic" font-weight="normal" font-size="9.7" fill="#333" stroke="#333" stroke-width="0.3" textLength="12.4" lengthAdjust="spacingAndGlyphs" transform="rotate(-90 842.3 203.8)">180</text>
<text x="790" y="227.5" font-family="Liberation Sans, sans-serif" font-style="italic" font-weight="normal" font-size="9.7" fill="#333" stroke="#333" stroke-width="0.3" textLength="12.1" lengthAdjust="spacingAndGlyphs" transform="rotate(-90 790 227.5)">170</text>
<text x="179.5" y="445.9" font-family="Liberation Sans, sans-serif" font-style="italic" font-weight="normal" font-size="9.0" fill="#6a6a6a" stroke="#6a6a6a" stroke-width="0.3" textLength="42.8" lengthAdjust="spacingAndGlyphs" transform="rotate(-90 179.5 445.9)">1984 (2004)</text>
<text x="199.3" y="438.9" font-family="Liberation Sans, sans-serif" font-weight="bold" font-size="11.2" fill="#1a1a1a" stroke="#1a1a1a" stroke-width="0.2" textLength="126.4" lengthAdjust="spacingAndGlyphs" xml:space="preserve">1404 / 1604  / 1804 / 2004</text>
<text x="256.6" y="566.8" font-family="Liberation Sans, sans-serif" font-style="italic" font-weight="normal" font-size="8" fill="#555" stroke="#555" stroke-width="0.3" textLength="2" lengthAdjust="spacingAndGlyphs">l</text>
<text x="196" y="588.4" font-family="Liberation Sans, sans-serif" font-weight="bold" font-size="11.2" fill="#1a1a1a" stroke="#1a1a1a" stroke-width="0.2" textLength="124" lengthAdjust="spacingAndGlyphs" xml:space="preserve">1444 / 1644  / 1844/ 2044</text>
<text x="443.8" y="315.6" font-family="Liberation Sans, sans-serif" font-style="italic" font-weight="normal" font-size="9.0" fill="#555" stroke="#555" stroke-width="0.3" textLength="13" lengthAdjust="spacingAndGlyphs" transform="rotate(-90 443.8 315.6)">410</text>
<text x="827.9" y="628.7" font-family="Liberation Sans, sans-serif" font-weight="bold" font-size="30.8" fill="#a9a9a9" textLength="120.3" lengthAdjust="spacingAndGlyphs">BELFAN</text>
</g>
</svg>
</body></html>
